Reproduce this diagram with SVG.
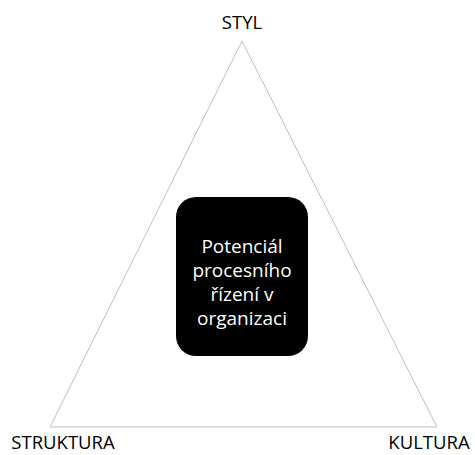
<svg xmlns="http://www.w3.org/2000/svg" width="475" height="455" viewBox="0 0 475 455">
<style>
.lbl{font-family:"Open Sans","Liberation Sans",sans-serif;font-size:18.5px;fill:#000;text-anchor:middle}
.in{font-family:"Open Sans","Liberation Sans",sans-serif;font-size:19px;fill:#fff;text-anchor:middle}
</style>
<rect width="475" height="455" fill="#fff"/>
<g id="connectors">
<polygon points="242,41 50,427 437,427" fill="none" stroke="#bfbfbf" stroke-width="1"/>
</g>
<g id="styl"><text class="lbl" x="242" y="29">STYL</text></g>
<g id="struktura"><text class="lbl" x="63" y="449">STRUKTURA</text></g>
<g id="kultura"><text class="lbl" x="429" y="449">KULTURA</text></g>
<g id="center">
<rect x="176" y="197" width="132" height="159" rx="20" fill="#000"/>
<text class="in" x="242" y="253">Potenciál</text>
<text class="in" x="242" y="277">procesního</text>
<text class="in" x="242" y="301">řízení v</text>
<text class="in" x="242" y="325">organizaci</text>
</g>
</svg>
